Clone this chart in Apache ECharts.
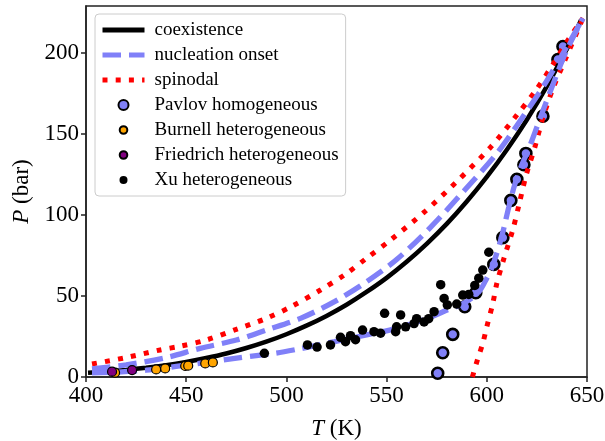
<!DOCTYPE html>
<html>
<head>
<meta charset="utf-8">
<script src="https://cdn.jsdelivr.net/npm/echarts@6/dist/echarts.min.js"></script>
<style>
html,body{margin:0;padding:0;background:#fff;}
#c{width:605px;height:441px;}
</style>
</head>
<body>
<div id="c"></div>
<script>
// ---- data (T in K, P in bar) ----
const xTicks = [400, 450, 500, 550, 600, 650];
const yTicks = [0, 50, 100, 150, 200];

const coexT = [401, 410, 420, 430, 440, 450, 460, 470, 480, 490, 500, 510, 520, 530, 540, 550, 560, 570, 580, 590, 600, 610, 620, 630, 640, 645, 647.1];
const coexP = [2.6, 3.3, 4.4, 5.7, 7.3, 9.3, 11.7, 14.5, 17.9, 21.8, 26.4, 31.7, 37.7, 44.6, 52.5, 61.2, 71.1, 82.2, 94.5, 108.3, 123.5, 140.3, 158.8, 179.5, 202.7, 215.0, 220.6];

const nucUpperT = [403, 420, 440, 457, 475, 490, 507, 524, 540, 555, 572, 589, 605, 616, 628, 640, 648];
const nucUpperP = [5.0, 7.5, 12.0, 17.7, 22.8, 29.0, 36.2, 46.5, 58.8, 72.5, 92.5, 115.4, 138.0, 157.0, 179.0, 204.0, 221.5];
const nucLowerT = [403, 415, 430, 445, 460, 477, 495, 507, 524, 540, 555, 572, 580.5, 588.5, 596, 600, 603, 607.5, 611, 614, 617.5, 621, 627, 635, 640, 648];
const nucLowerP = [2.6, 3.0, 4.2, 6.5, 9.0, 12.0, 14.8, 17.5, 21.8, 26.0, 30.0, 37.0, 41.5, 45.5, 52.5, 61.0, 69.0, 87.0, 105.0, 119.0, 131.0, 141.0, 161.0, 187.0, 202.0, 221.5];

const spinUpperT = [403, 420, 437, 447, 460, 475, 490, 503, 517, 529, 540, 552, 569, 585, 602, 615, 624.5, 633, 640, 648];
const spinUpperP = [8.0, 12.0, 16.7, 19.0, 22.8, 29.4, 36.2, 43.8, 53.7, 63.0, 73.3, 84.6, 102.0, 120.6, 142.0, 161.7, 177.0, 193.0, 207.0, 221.5];
const spinLowerT = [592.8, 595.3, 598, 600, 603, 605, 608.5, 613, 616, 619.5, 624, 628, 633, 639.5, 648];
const spinLowerP = [0, 10.5, 20.8, 31.0, 45.4, 57.8, 73.0, 91.0, 106.0, 124.0, 142.0, 160.0, 178.0, 197.0, 221.5];

const pavlovT = [575.5, 578, 583, 589, 594.5, 603.5, 608, 612, 615, 618.5, 619.5, 628, 635.5, 638];
const pavlovP = [2.3, 15.0, 26.3, 43.4, 52.0, 69.5, 86.0, 109.0, 122.0, 131.0, 138.0, 161.0, 196.0, 204.0];

const burnellT = [414.5, 435, 439.5, 449.5, 451, 459.5, 463.3];
const burnellP = [2.7, 4.7, 5.3, 6.8, 7.0, 8.4, 9.0];

const friedrichT = [413, 423];
const friedrichP = [3.3, 4.3];

const xuT = [489, 510.5, 515.3, 522, 527, 529.5, 532, 534.5, 538, 543.7, 547, 549, 554.5, 555, 557, 559.5, 563.7, 565, 568.7, 571, 573.7, 577, 578.7, 580.3, 585, 588, 591, 594, 596, 598, 601];
const xuP = [14.6, 19.8, 18.5, 19.8, 24.5, 21.8, 25.5, 23.0, 29.0, 28.0, 27.0, 39.3, 28.0, 31.0, 38.3, 31.0, 33.0, 36.0, 34.0, 36.0, 40.3, 57.0, 48.5, 44.5, 45.0, 50.6, 51.0, 56.5, 61.0, 66.0, 77.0];

const zip = (a, b) => a.map((v, i) => [v, b[i]]);

// ---- styles ----
const FONT = 'Liberation Serif';
const BLUE = '#8080f8';
const legendDot = r => {
  const c = 6.5;
  return 'path://M0,0 M13,13 M' + (c + r) + ',' + c +
    ' A' + r + ',' + r + ',0,1,1,' + (c - r) + ',' + c +
    ' A' + r + ',' + r + ',0,1,1,' + (c + r) + ',' + c + 'Z';
};

const chart = echarts.init(document.getElementById('c'), null, {renderer: 'canvas'});

const lineBase = {type: 'line', symbol: 'none', showSymbol: false, smooth: 0.3, silent: true};

chart.setOption({
  animation: false,
  backgroundColor: '#fff',
  textStyle: {fontFamily: FONT},
  grid: {left: 86, right: 18, top: 6, bottom: 64, containLabel: false, outerBoundsMode: 'none',
         show: true, borderColor: '#222', borderWidth: 1.5, backgroundColor: 'transparent'},
  legend: {
    orient: 'vertical', left: 95, top: 14,
    padding: [6.5, 7, 6.5, 5],
    itemWidth: 42, itemHeight: 13, itemGap: 6,
    backgroundColor: 'rgba(255,255,255,0.85)',
    borderColor: '#cccccc', borderWidth: 1, borderRadius: 4,
    textStyle: {fontFamily: FONT, fontSize: 19, color: '#000', lineHeight: 19, padding: [0, 0, 0, 5]},
    data: [
      {name: 'coexistence', itemStyle: {opacity: 0}, lineStyle: {width: 5, color: '#000'}},
      {name: 'nucleation onset', itemStyle: {opacity: 0}, lineStyle: {width: 5, color: BLUE, type: [18.5, 8]}},
      {name: 'spinodal', itemStyle: {opacity: 0}, lineStyle: {width: 5, color: '#ff0000', type: [5, 8.2]}},
      {name: 'Pavlov homogeneous', icon: legendDot(5)},
      {name: 'Burnell heterogeneous', icon: legendDot(3.8)},
      {name: 'Friedrich heterogeneous', icon: legendDot(3.8)},
      {name: 'Xu heterogeneous', icon: legendDot(4)}
    ]
  },
  xAxis: {
    type: 'value', min: 400, max: 650, interval: 50,
    name: '{it|T} (K)', nameLocation: 'middle', nameGap: 40,
    nameTextStyle: {fontFamily: FONT, fontSize: 23, color: '#000', rich: {it: {fontStyle: 'italic', fontFamily: FONT, fontSize: 23, color: '#000'}}},
    axisLine: {show: true, lineStyle: {color: '#222', width: 1.5}},
    axisTick: {show: true, inside: false, length: 5, lineStyle: {color: '#222', width: 1.5}, customValues: xTicks},
    axisLabel: {fontFamily: FONT, fontSize: 23, color: '#000', margin: 7, customValues: xTicks},
    splitLine: {show: false}
  },
  yAxis: {
    type: 'value', min: 0, max: 229, interval: 50,
    name: '{it|P} (bar)', nameLocation: 'middle', nameGap: 53, nameRotate: 90,
    nameTextStyle: {fontFamily: FONT, fontSize: 23, color: '#000', rich: {it: {fontStyle: 'italic', fontFamily: FONT, fontSize: 23, color: '#000'}}},
    axisLine: {show: true, lineStyle: {color: '#222', width: 1.5}},
    axisTick: {show: true, inside: false, length: 5, lineStyle: {color: '#222', width: 1.5}, customValues: yTicks},
    axisLabel: {fontFamily: FONT, fontSize: 23, color: '#000', margin: 7, customValues: yTicks},
    splitLine: {show: false}
  },
  series: [
    {
      name: 'Pavlov homogeneous', type: 'scatter', z: 2,
      data: zip(pavlovT, pavlovP), symbolSize: 11,
      itemStyle: {color: BLUE, borderColor: '#000', borderWidth: 2.6, opacity: 1}
    },
    Object.assign({}, lineBase, {
      name: 'coexistence', z: 3, smooth: 0.2,
      data: zip(coexT, coexP),
      lineStyle: {color: '#000', width: 4.5},
      itemStyle: {color: '#000'}
    }),
    Object.assign({}, lineBase, {
      name: 'spinodal', z: 4,
      data: zip(spinUpperT, spinUpperP),
      lineStyle: {color: '#ff0000', width: 5, type: [5, 8.2], cap: 'butt'},
      itemStyle: {color: '#ff0000'}
    }),
    Object.assign({}, lineBase, {
      name: 'spinodal', z: 4,
      data: zip(spinLowerT, spinLowerP),
      lineStyle: {color: '#ff0000', width: 5, type: [5, 8.2], cap: 'butt'},
      itemStyle: {color: '#ff0000'}
    }),
    Object.assign({}, lineBase, {
      name: 'nucleation onset', z: 5,
      data: zip(nucUpperT, nucUpperP),
      lineStyle: {color: BLUE, width: 5.3, type: [18.5, 8], cap: 'butt'},
      itemStyle: {color: BLUE}
    }),
    Object.assign({}, lineBase, {
      name: 'nucleation onset', z: 5,
      data: zip(nucLowerT, nucLowerP),
      lineStyle: {color: BLUE, width: 5.3, type: [18.5, 8], cap: 'butt'},
      itemStyle: {color: BLUE}
    }),
    {
      name: 'Burnell heterogeneous', type: 'scatter', z: 6,
      data: zip(burnellT, burnellP), symbolSize: 9,
      itemStyle: {color: '#ffa500', borderColor: '#000', borderWidth: 1.2, opacity: 1}
    },
    {
      name: 'Friedrich heterogeneous', type: 'scatter', z: 6,
      data: zip(friedrichT, friedrichP), symbolSize: 9,
      itemStyle: {color: '#800080', borderColor: '#000', borderWidth: 1.2, opacity: 1}
    },
    {
      name: 'Xu heterogeneous', type: 'scatter', z: 7,
      data: zip(xuT, xuP), symbolSize: 9.5,
      itemStyle: {color: '#000', opacity: 1}
    }
  ]
});
</script>
</body>
</html>
